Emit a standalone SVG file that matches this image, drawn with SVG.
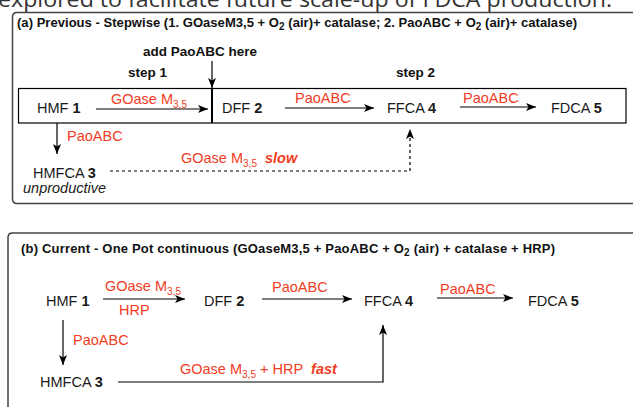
<svg xmlns="http://www.w3.org/2000/svg" width="633" height="407" viewBox="0 0 633 407">
<defs>
<style>
text{font-family:"Liberation Sans",Arial,sans-serif;}
.t{font-size:14.5px;fill:#1a1a1a;}
.b{font-weight:bold;}
.h{font-size:13px;font-weight:bold;fill:#111;}
.r{font-size:14.5px;fill:#f23c24;}
.s{font-size:10px;}
.ln{stroke:#000;stroke-width:1.2;fill:none;}
.panel{stroke:#444;stroke-width:1.5;fill:none;}
</style>
<marker id="ah" viewBox="0 0 10 8" refX="10" refY="4" markerWidth="10" markerHeight="8" markerUnits="userSpaceOnUse" orient="auto">
<path d="M0,0 L10,4 L0,8 L2.5,4 Z" fill="#000"/>
</marker>
</defs>
<text x="-2" y="7" style="font-family:'Open Sans',sans-serif;font-size:21px;fill:#333" textLength="614" lengthAdjust="spacingAndGlyphs">explored to facilitate future scale-up of FDCA production.</text>

<g id="panel-a">
<path class="panel" d="M640,12.5 L17,12.5 Q12.5,12.5 12.5,17 L12.5,199 Q12.5,203.5 17,203.5 L640,203.5"/>
<text class="h" x="17" y="27" textLength="560">(a) Previous - Stepwise (1. GOaseM3,5 + O<tspan class="s" dy="3">2</tspan><tspan dy="-3"> (air)+ catalase; 2. PaoABC + O</tspan><tspan class="s" dy="3">2</tspan><tspan dy="-3"> (air)+ catalase)</tspan></text>
<rect x="18.5" y="88.5" width="607.5" height="34.5" fill="none" stroke="#000" stroke-width="1.2"/>
<line x1="212" y1="88" x2="212" y2="123" stroke="#000" stroke-width="2"/>
</g>
<g id="label-add"><text class="h" x="143" y="56" style="font-size:13.5px">add PaoABC here</text></g>
<g id="label-step1"><text class="h" x="128" y="77" style="font-size:13.5px">step 1</text></g>
<g id="label-step2"><text class="h" x="396" y="77" style="font-size:13.5px">step 2</text></g>
<g id="a-hmf"><text class="t" x="37" y="113">HMF <tspan class="b">1</tspan></text></g>
<g id="a-dff"><text class="t" x="222" y="113">DFF <tspan class="b">2</tspan></text></g>
<g id="a-ffca"><text class="t" x="387" y="113">FFCA <tspan class="b">4</tspan></text></g>
<g id="a-fdca"><text class="t" x="551" y="113">FDCA <tspan class="b">5</tspan></text></g>
<g id="a-hmfca"><text class="t" x="33" y="178">HMFCA <tspan class="b">3</tspan></text><text class="t" x="23" y="193" font-style="italic">unproductive</text></g>

<g id="panel-b">
<path class="panel" d="M640,233 L12.5,233 Q8,233 8,237.5 L8,420"/>
<text class="h" x="21" y="253" textLength="534">(b) Current - One Pot continuous (GOaseM3,5 + PaoABC + O<tspan class="s" dy="3">2</tspan><tspan dy="-3"> (air) + catalase + HRP)</tspan></text>
</g>
<g id="b-hmf"><text class="t" x="46" y="306">HMF <tspan class="b">1</tspan></text></g>
<g id="b-dff"><text class="t" x="204" y="306">DFF <tspan class="b">2</tspan></text></g>
<g id="b-ffca"><text class="t" x="364" y="306">FFCA <tspan class="b">4</tspan></text></g>
<g id="b-fdca"><text class="t" x="528" y="306">FDCA <tspan class="b">5</tspan></text></g>
<g id="b-hmfca"><text class="t" x="40" y="387">HMFCA <tspan class="b">3</tspan></text></g>

<g id="connectors">
<line class="ln" x1="212" y1="61" x2="212" y2="88" marker-end="url(#ah)"/>
<line class="ln" x1="96" y1="109" x2="208" y2="109" marker-end="url(#ah)"/>
<line class="ln" x1="285" y1="108" x2="374" y2="108" marker-end="url(#ah)"/>
<line class="ln" x1="460" y1="107" x2="536" y2="107" marker-end="url(#ah)"/>
<line class="ln" x1="57" y1="123" x2="57" y2="154" marker-end="url(#ah)"/>
<path class="ln" d="M110,171 L410,171 L410,129" stroke-dasharray="3,3" marker-end="url(#ah)"/>
<line class="ln" x1="103" y1="299" x2="185" y2="299" marker-end="url(#ah)"/>
<line class="ln" x1="262" y1="299" x2="352" y2="299" marker-end="url(#ah)"/>
<line class="ln" x1="437" y1="298" x2="513" y2="298" marker-end="url(#ah)"/>
<line class="ln" x1="63" y1="320" x2="63" y2="365" marker-end="url(#ah)"/>
<path class="ln" d="M118,382 L383,382 L383,325" marker-end="url(#ah)"/>
</g>

<g id="reagents">
<text class="r" x="111" y="104">GOase M<tspan class="s" dy="4">3,5</tspan></text>
<text class="r" x="295" y="103">PaoABC</text>
<text class="r" x="463" y="103">PaoABC</text>
<text class="r" x="67" y="141">PaoABC</text>
<text class="r" x="181" y="163">GOase M<tspan class="s" dy="4">3,5</tspan><tspan dy="-4" dx="8" font-weight="bold" font-style="italic">slow</tspan></text>
<text class="r" x="105" y="291">GOase M<tspan class="s" dy="4">3,5</tspan></text>
<text class="r" x="119" y="315">HRP</text>
<text class="r" x="272" y="292">PaoABC</text>
<text class="r" x="440" y="294">PaoABC</text>
<text class="r" x="73" y="345">PaoABC</text>
<text class="r" x="180" y="374">GOase M<tspan class="s" dy="4">3,5</tspan><tspan dy="-4"> + HRP</tspan><tspan dx="8" font-weight="bold" font-style="italic">fast</tspan></text>
</g>
</svg>
